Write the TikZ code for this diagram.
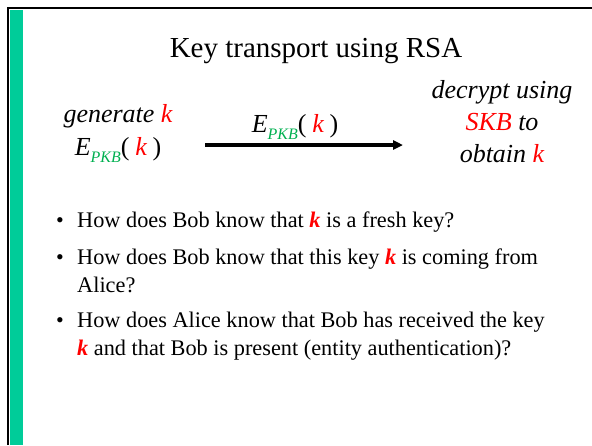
\documentclass[tikz,border=0pt]{standalone}
\usepackage{fontspec}
\setmainfont{Liberation Serif}
\usetikzlibrary{arrows.meta,positioning}
\definecolor{barteal}{RGB}{0,204,153}
\definecolor{keyred}{RGB}{255,0,0}
\definecolor{pkbgreen}{RGB}{0,176,80}
\newcommand{\keyk}{{\color{keyred}\itshape k}}
\newcommand{\boldk}{{\color{keyred}\bfseries\itshape k}}
\newcommand{\encpkb}{\textit{E}\raisebox{-0.28em}{\fontsize{16}{16}\selectfont\itshape\color{pkbgreen}PKB}(\hspace{0.22em}\keyk\hspace{0.22em})}

\begin{document}
\begin{tikzpicture}[
  x=1pt, y=-1pt,
  title/.style={font=\fontsize{29}{34}\selectfont, anchor=base, inner sep=0pt},
  lbl/.style={font=\fontsize{26}{32}\selectfont, anchor=base, inner sep=0pt},
  item/.style={font=\fontsize{22.3}{27}\selectfont, anchor=base west, inner sep=0pt},
  dot/.style={font=\fontsize{22}{27}\selectfont, anchor=base, inner sep=0pt},
  arr/.style={-{Triangle[length=10pt,width=9pt]}, line width=3.2pt}
]
\useasboundingbox (0,0) rectangle (592,445);
% slide frame
\fill[barteal] (9.5,10) rectangle (22.5,445);
\draw[line width=2.4pt] (8.2,445) -- (8.2,8.2) -- (592,8.2);

\node[title] (head) at (316,57) {Key transport using RSA};

% Alice side
\node[lbl] (gen) at (118,122) {\textit{generate} \keyk};
\node[lbl] (enc) at (118,155) {\encpkb};

% message
\coordinate (from) at (205,145);
\coordinate (to) at (403,145);
\draw[arr] (from) -- (to);
\node[lbl] (msg) at (295,132) {\encpkb};

% Bob side
\node[lbl] (dec1) at (502,98) {\textit{decrypt using}};
\node[lbl] (dec2) at (502,130) {\textit{\color{keyred}SKB} \textit{to}};
\node[lbl] (dec3) at (502,162) {\textit{obtain} \keyk};

% questions
\node[dot] (b1) at (60,227) {\textbullet};
\node[item] (q1) at (77,227) {How does Bob know that \boldk\ is a fresh key?};
\node[dot] (b2) at (60,264) {\textbullet};
\node[item] (q2) at (77,264) {How does Bob know that this key \boldk\ is coming from};
\node[item] (q2b) at (77,292) {Alice?};
\node[dot] (b3) at (60,327) {\textbullet};
\node[item] (q3) at (77,327) {How does Alice know that Bob has received the key};
\node[item] (q3b) at (77,355) {\boldk\ and that Bob is present (entity authentication)?};
\end{tikzpicture}
\end{document}
